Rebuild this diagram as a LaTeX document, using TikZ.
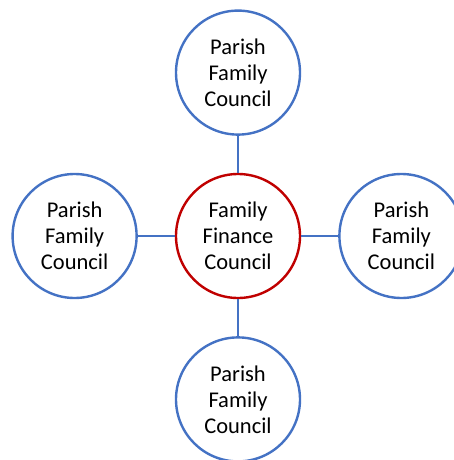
\documentclass[tikz,border=0pt]{standalone}
\usepackage{fontspec}
\setmainfont{Carlito}
\usetikzlibrary{positioning}
\definecolor{parishblue}{HTML}{4472C4}
\definecolor{financered}{HTML}{C00000}
\begin{document}
\begin{tikzpicture}[%
    x=1pt,
    y=-1pt,
    node distance=37pt,
    council/.style={%
      circle,
      minimum size=124pt,
      inner sep=0pt,
      align=center,
      font=\fontsize{22.5}{26}\selectfont,
      line width=2.4pt,
      fill=white,
      draw
    },
    parish/.style={council, draw=parishblue},
    finance/.style={council, draw=financered},
    link/.style={-, draw=parishblue, line width=2pt}
  ]
  \useasboundingbox (0,0) rectangle (454,460);
  \clip (0,0) rectangle (454,460);
  % Nodes: 
    \node[finance] (F)  at (238,236)      {Family\\Finance\\Council};
    \node[parish]  (PT) [above=of F]      {Parish\\Family\\Council};
    \node[parish]  (PL) [left=of F]       {Parish\\Family\\Council};
    \node[parish]  (PR) [right=of F]      {Parish\\Family\\Council};
    \node[parish]  (PB) [below=of F]      {Parish\\Family\\Council};
  % Paths: 
    \path (F) edge[link] (PT)
          (F) edge[link] (PL)
          (F) edge[link] (PR)
          (F) edge[link] (PB);
\end{tikzpicture}
\end{document}
